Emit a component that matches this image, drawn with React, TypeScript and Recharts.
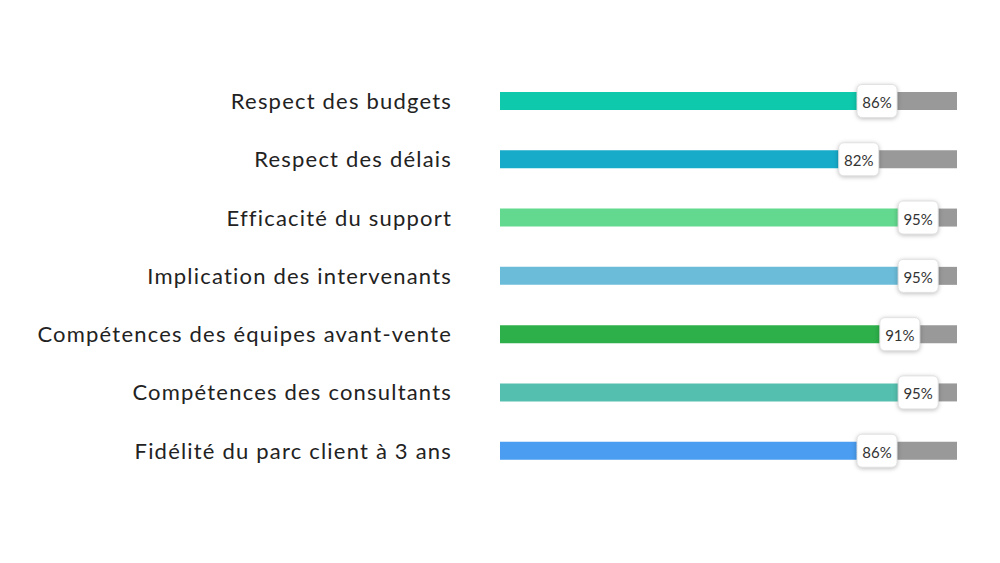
import { BarChart, Bar, XAxis, YAxis, Cell, LabelList } from 'recharts'

const categories = [
  'Respect des budgets',
  'Respect des délais',
  'Efficacité du support',
  'Implication des intervenants',
  'Compétences des équipes avant-vente',
  'Compétences des consultants',
  'Fidélité du parc client à 3 ans',
]

const scores = [86, 82, 95, 95, 91, 95, 86]

const barColors = [
  '#0fc9ad',
  '#17aac9',
  '#62d98e',
  '#6bbcd9',
  '#2db04a',
  '#54bfae',
  '#4a9df0',
]

const data = categories.map((name, i) => ({
  name,
  score: scores[i],
  rest: 100 - scores[i],
}))

// badge sits over the junction between the coloured bar and the grey remainder
function ScoreBadge(props: any) {
  const { x, y, height, value } = props
  const cx = x - 16
  const cy = y + height / 2
  return (
    <g>
      <rect
        x={cx - 20}
        y={cy - 16.5}
        width={40}
        height={33}
        rx={5}
        fill="#fff"
        stroke="#e2e2e2"
        style={{ filter: 'drop-shadow(0px 1px 2px rgba(0,0,0,0.25))' }}
      />
      <text
        x={cx}
        y={cy + 1}
        textAnchor="middle"
        dominantBaseline="central"
        fontSize={15}
        fill="#333"
        fontFamily="Lato, sans-serif"
      >
        {value}%
      </text>
    </g>
  )
}

export default function App() {
  return (
    <div style={{ position: 'absolute', left: 0, top: 0, width: 1000, height: 563, background: '#fff' }}>
      <BarChart
        width={1000}
        height={563}
        data={data}
        layout="vertical"
        margin={{ top: 72, right: 43, bottom: 83, left: 0 }}
        barSize={18}
      >
        <XAxis type="number" domain={[0, 100]} hide />
        <YAxis
          type="category"
          dataKey="name"
          width={500}
          axisLine={false}
          tickLine={false}
          tickSize={0}
          tickMargin={48}
          tick={{ fontSize: 22, fill: '#222', fontFamily: 'Lato, sans-serif', letterSpacing: 1.2 }}
        />
        <Bar dataKey="score" stackId="a" isAnimationActive={false}>
          {data.map((d, i) => (
            <Cell key={d.name} fill={barColors[i]} />
          ))}
        </Bar>
        <Bar dataKey="rest" stackId="a" fill="#999999" isAnimationActive={false}>
          <LabelList dataKey="score" content={ScoreBadge} />
        </Bar>
      </BarChart>
    </div>
  )
}
